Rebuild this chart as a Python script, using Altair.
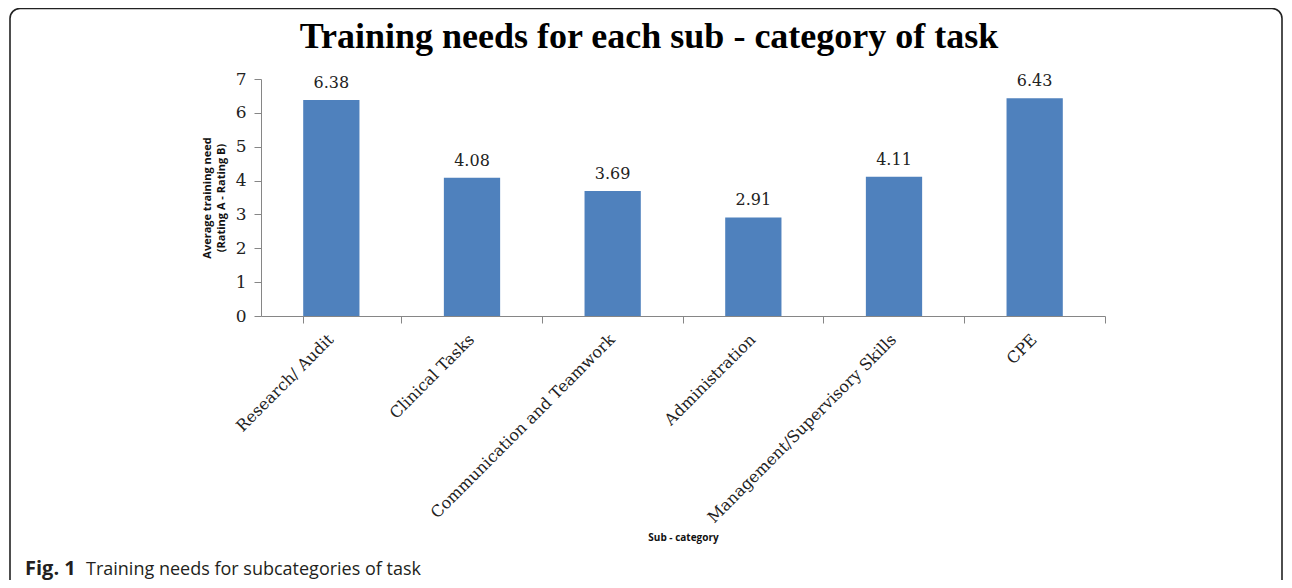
import altair as alt
import pandas as pd

categories = ["Research/ Audit", "Clinical Tasks", "Communication and Teamwork",
              "Administration", "Management/Supervisory Skills", "CPE"]
values = [6.38, 4.08, 3.69, 2.91, 4.11, 6.43]
y_ticks = [0, 1, 2, 3, 4, 5, 6, 7]
title_text = ["Training needs for each sub - category of task"]
x_title = "Sub - category"
y_title = ["Average training need", "(Rating A - Rating B)"]
caption_bold = ["Fig. 1"]
caption_rest = ["Training needs for subcategories of task"]

df = pd.DataFrame({"cat": categories, "val": values})

PLOT_W, PLOT_H = 844, 237
PAD = {"left": 253, "top": 71, "right": 179, "bottom": 264}
AXIS_GRAY = "#868686"

x_scale = alt.Scale(paddingInner=0.6, paddingOuter=0.3)
y_scale = alt.Scale(domain=[0, 7], nice=False, zero=True)

x_axis = alt.Axis(
    title=x_title, titleFont="Open Sans", titleFontSize=10, titleFontWeight="bold",
    titleColor="#111", titleY=221, titleX=422, titleBaseline="middle", titleAlign="center",
    labelAngle=-45, labelAlign="right", labelBaseline="top",
    labelFont="DejaVu Serif", labelFontSize=16, labelColor="#222",
    labelPadding=8, labelOffset=-6, labelLimit=400, labelOverlap=False,
    tickSize=7, tickColor=AXIS_GRAY, domainColor=AXIS_GRAY,
    bandPosition=1.75, tickExtra=True,
)

y_axis = alt.Axis(
    values=y_ticks, tickCount=8, title=y_title, titleFont="Open Sans", titleFontSize=11,
    titleFontWeight="bold", titleColor="#111", titleAngle=270,
    titleX=-54, titleY=118.5, titleBaseline="middle", titleAlign="center", titleLineHeight=14,
    labelFont="DejaVu Serif", labelFontSize=17, labelColor="#222", labelPadding=8,
    labelOverlap=False, labelBound=False,
    tickSize=7, tickColor=AXIS_GRAY, domainColor=AXIS_GRAY, grid=False,
)

x_enc = alt.X("cat:N", sort=categories, scale=x_scale, axis=x_axis)
y_enc = alt.Y("val:Q", scale=y_scale, axis=y_axis)

bars = alt.Chart(df).mark_bar(color="#4F81BD").encode(x=x_enc, y=y_enc)

labels = alt.Chart(df).mark_text(
    font="DejaVu Serif", fontSize=16, color="#222", baseline="alphabetic", dy=-12
).encode(x=x_enc, y=y_enc, text=alt.Text("val:Q", format=".2f"))

border_df = pd.DataFrame({"k": [0]})
border = alt.Chart(border_df).mark_rect(
    filled=False, stroke="#222", strokeWidth=1.6, cornerRadius=10
).encode(
    x=alt.value(-251), x2=alt.value(1021), y=alt.value(-70.5), y2=alt.value(560)
)

title = alt.Chart(pd.DataFrame({"t": title_text})).mark_text(
    font="Liberation Serif", fontSize=36, fontWeight="bold", color="#000",
    align="center", baseline="alphabetic"
).encode(x=alt.value(388), y=alt.value(-31), text="t:N")

cap1 = alt.Chart(pd.DataFrame({"t": caption_bold})).mark_text(
    font="Open Sans", fontSize=20, fontWeight="bold", color="#231f20",
    align="left", baseline="alphabetic"
).encode(x=alt.value(-236), y=alt.value(496), text="t:N")

cap2 = alt.Chart(pd.DataFrame({"t": caption_rest})).mark_text(
    font="Open Sans", fontSize=18, color="#231f20",
    align="left", baseline="alphabetic"
).encode(x=alt.value(-175), y=alt.value(496), text="t:N")

chart = alt.layer(bars, labels, border, title, cap1, cap2).properties(
    width=PLOT_W, height=PLOT_H,
    autosize=alt.AutoSizeParams(type="none"),
    padding=PAD,
).configure(background="white").configure_view(stroke=None)

chart.save("out.html", embed_options={"renderer": "svg", "actions": False})
